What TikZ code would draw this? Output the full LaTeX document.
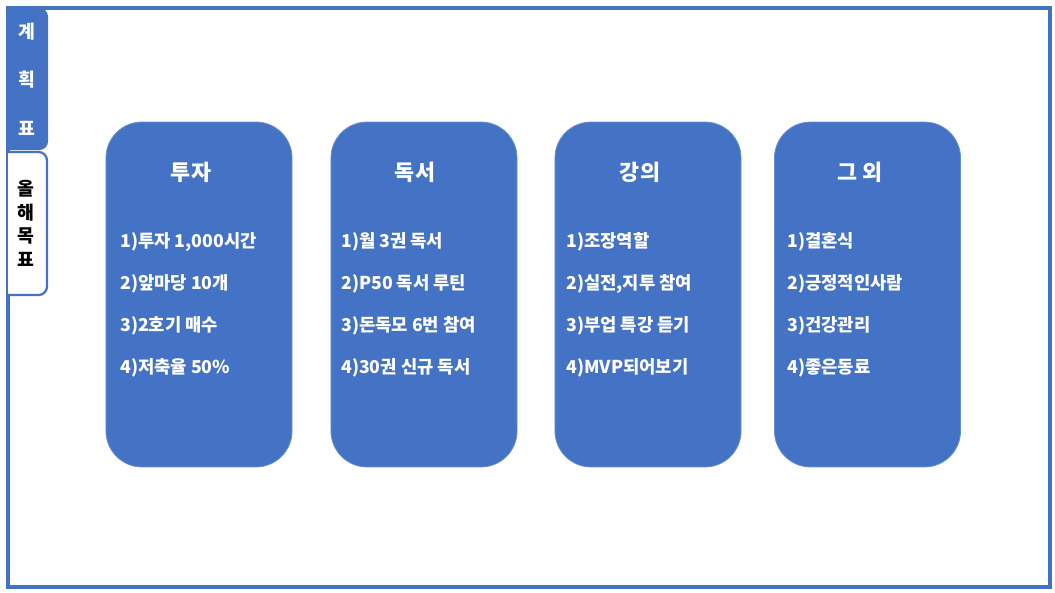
\documentclass[tikz,border=0pt]{standalone}
\usepackage{fontspec}
\setmainfont{Noto Sans CJK KR}
\usetikzlibrary{positioning}
\definecolor{planblue}{HTML}{4472C4}

\begin{document}
\begin{tikzpicture}[x=0.025cm, y=-0.025cm,
        card/.style={rectangle, fill=planblue, draw=planblue!80!white, line width=0.6pt,
          rounded corners=0.9cm, minimum width=4.65cm, minimum height=8.62cm},
        title/.style={font=\fontsize{15.5}{18}\selectfont\bfseries, text=white},
        item/.style={font=\fontsize{12.6}{15}\selectfont\bfseries, text=white, anchor=west, inner sep=0pt},
        tabtext/.style={font=\fontsize{13}{15}\selectfont\bfseries, inner sep=0pt}]
      \useasboundingbox (0,0) rectangle (1055,593);
      % frame and tabs
      \draw[planblue, line width=2.2pt] (8,8) rectangle (1050,587);
      \fill[planblue] (8,150) -- (8,8) [rounded corners=6] -- (48,8) -- (48,150) [sharp corners] -- cycle;
      \draw[planblue, fill=white, line width=1.6pt] (8,152) [rounded corners=6] -- (47,152) -- (47,295) [sharp corners] -- (8,295);
      \node (plan1) [tabtext, text=white] at (27,32) {계};
      \node (plan2) [tabtext, text=white] at (27,80) {획};
      \node (plan3) [tabtext, text=white] at (27,128) {표};
      \node (goal1) [tabtext] at (26,189) {올};
      \node (goal2) [tabtext] at (26,213) {해};
      \node (goal3) [tabtext] at (26,236) {목};
      \node (goal4) [tabtext] at (26,259) {표};
      % cards
      \node (invest) [card] at (199,294.5) {};
      \node (reading) [card] at (424,294.5) {};
      \node (lecture) [card] at (648,294.5) {};
      \node (others) [card] at (867.5,294.5) {};
      \node (investT) [title] at (191,172) {투자};
      \node (readingT) [title] at (415,172) {독서};
      \node (lectureT) [title] at (640,172) {강의};
      \node (othersT) [title] at (860,172) {그 외};
      % items
      \node (invest1) [item] at (120,242) {1)투자 1,000시간};
      \node (invest2) [item] at (120,284) {2)앞마당 10개};
      \node (invest3) [item] at (120,326) {3)2호기 매수};
      \node (invest4) [item] at (120,368) {4)저축율 50\%};
      \node (reading1) [item] at (341,242) {1)월 3권 독서};
      \node (reading2) [item] at (341,284) {2)P50 독서 루틴};
      \node (reading3) [item] at (341,326) {3)돈독모 6번 참여};
      \node (reading4) [item] at (341,368) {4)30권 신규 독서};
      \node (lecture1) [item] at (566,242) {1)조장역할};
      \node (lecture2) [item] at (566,284) {2)실전,지투 참여};
      \node (lecture3) [item] at (566,326) {3)부업 특강 듣기};
      \node (lecture4) [item] at (566,368) {4)MVP되어보기};
      \node (others1) [item] at (787,242) {1)결혼식};
      \node (others2) [item] at (787,284) {2)긍정적인사람};
      \node (others3) [item] at (787,326) {3)건강관리};
      \node (others4) [item] at (787,368) {4)좋은동료};
    \end{tikzpicture}
\end{document}
